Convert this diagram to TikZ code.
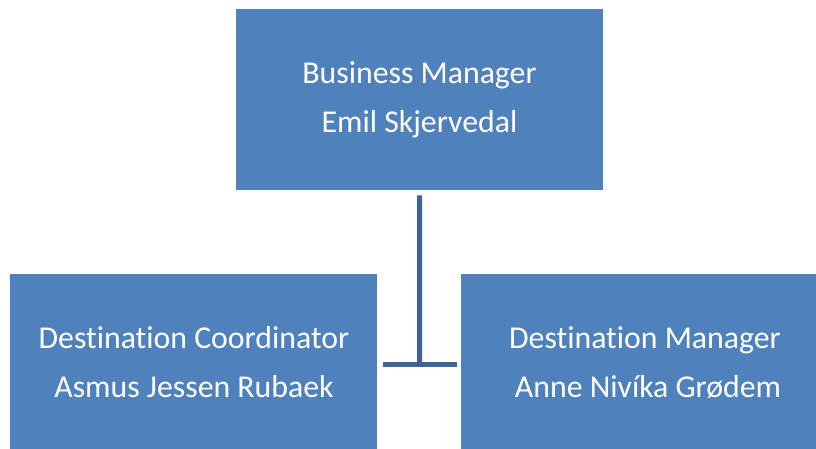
\documentclass[tikz,border=0pt]{standalone}
\usepackage{fontspec}
\setmainfont[Ligatures={NoCommon}]{Carlito}
\definecolor{boxblue}{HTML}{4F81BD}
\definecolor{linkblue}{HTML}{3C6494}
\begin{document}
\begin{tikzpicture}[x=1pt,y=-1pt,
  box/.style={fill=boxblue, draw=none, inner sep=0pt, minimum width=367pt, minimum height=181pt, anchor=north west},
  lbl/.style={text=white, font=\fontsize{31.8}{49}\selectfont, anchor=base, inner sep=0pt},
  link/.style={draw=linkblue, line width=5pt}]
\useasboundingbox (0,0) rectangle (816,448);
\clip (0,0) rectangle (816,448);
\node[box] (top) at (236,9) {};
\node[box] (left) at (10,274) {};
\node[box] (right) at (461,274) {};
\node[lbl] (t1) at (419.5,83) {Business Manager};
\node[lbl] (t2) at (419.5,132) {Emil Skjervedal};
\node[lbl] (l1) at (194,348) {Destination Coordinator};
\node[lbl] (l2) at (194,397) {Asmus Jessen Rubaek};
\node[lbl] (r1) at (645,348) {Destination Manager};
\node[lbl] (r2) at (648,397) {Anne Nivíka Grødem};
\coordinate (j) at (419.5,364);
\coordinate (ts) at ([yshift=-5pt]top.south);
\coordinate (la) at ([xshift=6pt]left.east);
\coordinate (ra) at ([xshift=-4pt]right.west);
\draw[link] (ts) -- (j);
\draw[link] (la |- j) -- (ra |- j);
\end{tikzpicture}
\end{document}
